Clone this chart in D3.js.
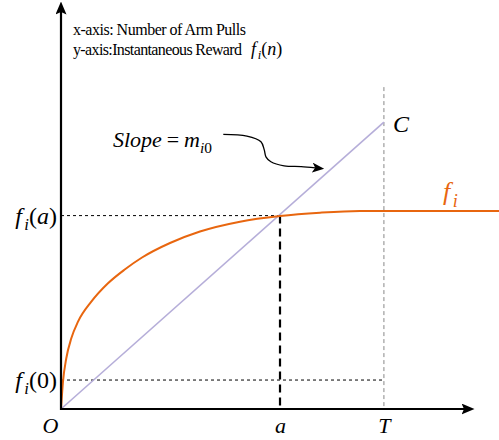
<!DOCTYPE html>
<html>
<head>
<meta charset="utf-8">
<script src="https://cdn.jsdelivr.net/npm/d3@7"></script>
<style>
  body { margin: 0; background: #fff; }
  svg { display: block; }
</style>
</head>
<body>
<svg id="chart" width="499" height="440"></svg>
<script>
// reward curve f_i(n) (units 0..100 on both axes)
var curveN = [0, 0.48, 1.28, 2.49, 4.11, 7.32, 11.35, 15.39, 19.57, 26.33, 33.57, 43.24, 52.9, 62.56, 72.22, 81.88, 106.0];
var curveF = [0, 6.69, 12.43, 17.33, 21.40, 26.30, 30.81, 34.19, 37.13, 40.69, 43.50, 45.91, 47.30, 48.11, 48.53, 48.53, 48.53];

// straight line from O to C
var slopeN = [0, 78.0];
var slopeF = [0, 70.3];

// tick labels on the axes
var xTickNames = ["O", "a", "T"];
var xTickValues = [0, 52.9, 78.0];
var yTickNames = ["0", "a"];            // f_i(0), f_i(a)
var yTickValues = [7.1, 47.4];
var tLineTop = 78.9;

// wavy pointer from the slope label to the line
var pointerN = [39.2, 44.9, 48.3, 49.1, 49.5, 50.7, 53.9, 58.0, 61.4];
var pointerF = [67.3, 66.9, 65.5, 63.5, 61.8, 60.6, 59.6, 59.4, 59.1];

var legendLines = ["x-axis: Number of Arm Pulls", "y-axis:Instantaneous Reward"];
var legendWidths = [173, 169];

var orange = "#e8660f", lilac = "#b6aed9";
var mathFont = "'Liberation Serif', serif";

var svg = d3.select("#chart");

var x = d3.scaleLinear().domain([0, 100]).range([61, 475]);
var y = d3.scaleLinear().domain([0, 100]).range([409, 1]);

var defs = svg.append("defs");
function addMarker(id, len, half, notch) {
  defs.append("marker")
    .attr("id", id)
    .attr("markerUnits", "userSpaceOnUse")
    .attr("viewBox", [0, -half, len, half * 2].join(" "))
    .attr("markerWidth", len)
    .attr("markerHeight", half * 2)
    .attr("refX", notch)
    .attr("refY", 0)
    .attr("orient", "auto")
    .append("path")
    .attr("d", "M" + len + ",0L0," + (-half) + "L" + notch + ",0L0," + half + "Z")
    .attr("fill", "#000");
}
addMarker("axisArrow", 13, 5.5, 2.5);
addMarker("ptrArrow", 12, 5, 3);

// writes math-like text: parts of [string, kind]
// kind: i = italic, r = roman, s = italic subscript, sr = roman subscript,
// f = italic with a little room after, sp = roman operator with space around
function mathText(sel, parts, size) {
  sel.text(null).style("font-family", mathFont).style("font-size", size + "px");
  var shift = 0, gap = 0;
  parts.forEach(function(p) {
    var t = sel.append("tspan").text(p[0]);
    var k = p[1];
    var sub = k === "s" || k === "sr";
    t.style("font-style", (k === "r" || k === "sr" || k === "sp") ? "normal" : "italic");
    if (gap) t.attr("dx", gap + "px");
    if (k === "sp") t.attr("dx", size * 0.22 + "px");
    if (sub) {
      t.style("font-size", (size * 0.7) + "px").attr("dy", (size * 0.25 - shift) + "px");
      shift = size * 0.25;
    } else if (shift) {
      t.attr("dy", (-shift) + "px");
      shift = 0;
    }
    gap = k === "f" ? size * 0.1 : (k === "sp" ? size * 0.22 : 0);
  });
}

// guide lines
svg.append("line")
  .attr("x1", x(0)).attr("x2", x(xTickValues[2]))
  .attr("y1", y(yTickValues[0])).attr("y2", y(yTickValues[0]))
  .attr("stroke", "#000").attr("stroke-width", 1).attr("stroke-dasharray", "3,3");
svg.append("line")
  .attr("x1", x(0)).attr("x2", x(xTickValues[1]))
  .attr("y1", y(yTickValues[1])).attr("y2", y(yTickValues[1]))
  .attr("stroke", "#000").attr("stroke-width", 1).attr("stroke-dasharray", "3,3");
svg.append("line")
  .attr("x1", x(xTickValues[1])).attr("x2", x(xTickValues[1]))
  .attr("y1", y(yTickValues[1])).attr("y2", y(0))
  .attr("stroke", "#000").attr("stroke-width", 2.2).attr("stroke-dasharray", "8,5");
svg.append("line")
  .attr("x1", x(xTickValues[2])).attr("x2", x(xTickValues[2]))
  .attr("y1", y(tLineTop)).attr("y2", y(0))
  .attr("stroke", "#888").attr("stroke-width", 1).attr("stroke-dasharray", "4,3");

// slope line O -> C
svg.append("path")
  .datum(d3.range(slopeN.length))
  .attr("d", d3.line().x(function(i) { return x(slopeN[i]); }).y(function(i) { return y(slopeF[i]); }))
  .attr("fill", "none").attr("stroke", lilac).attr("stroke-width", 1.6);

// reward curve
svg.append("path")
  .datum(d3.range(curveN.length))
  .attr("d", d3.line().curve(d3.curveMonotoneX)
    .x(function(i) { return x(curveN[i]); }).y(function(i) { return y(curveF[i]); }))
  .attr("fill", "none").attr("stroke", orange).attr("stroke-width", 2);

// axes (labels only, arrows drawn below)
var xAxis = svg.append("g")
  .attr("transform", "translate(0," + y(0) + ")")
  .call(d3.axisBottom(x).tickValues(xTickValues).tickSize(0).tickPadding(8)
    .tickFormat(function(d, i) { return xTickNames[i]; }));
xAxis.select(".domain").remove();
xAxis.selectAll("text")
  .style("font-family", mathFont).style("font-style", "italic").style("font-size", "22px")
  .attr("fill", "#000")
  .attr("dx", function(d, i) { return i === 0 ? -11 : 0; });

var yAxis = svg.append("g")
  .attr("transform", "translate(" + x(0) + ",0)")
  .call(d3.axisLeft(y).tickValues(yTickValues).tickSize(0).tickPadding(4));
yAxis.select(".domain").remove();
yAxis.selectAll("text").attr("fill", "#000").each(function(d, i) {
  mathText(d3.select(this), [["f", "f"], ["i", "s"], ["(", "r"], [yTickNames[i], yTickNames[i] === "0" ? "r" : "i"], [")", "r"]], 24);
});

svg.append("line")
  .attr("x1", x(0)).attr("x2", x(0))
  .attr("y1", y(0) + 1).attr("y2", y(100) + 11)
  .attr("stroke", "#000").attr("stroke-width", 2.2)
  .attr("marker-end", "url(#axisArrow)");
svg.append("line")
  .attr("x1", x(0) - 1).attr("x2", x(100) - 11)
  .attr("y1", y(0)).attr("y2", y(0))
  .attr("stroke", "#000").attr("stroke-width", 2.2)
  .attr("marker-end", "url(#axisArrow)");

// flat part label and point C
mathText(svg.append("text").attr("x", 443).attr("y", 200).attr("fill", orange),
  [["f", "f"], ["i", "s"]], 26);
mathText(svg.append("text").attr("x", x(slopeN[1]) + 9).attr("y", y(slopeF[1]) + 10).attr("fill", "#000"),
  [["C", "i"]], 24);

// slope annotation
mathText(svg.append("text").attr("x", 113).attr("y", 147).attr("fill", "#000"),
  [["Slope", "i"], ["=", "sp"], ["m", "i"], ["i", "s"], ["0", "sr"]], 22);
svg.append("path")
  .datum(d3.range(pointerN.length))
  .attr("d", d3.line().curve(d3.curveCatmullRom)
    .x(function(i) { return x(pointerN[i]); }).y(function(i) { return y(pointerF[i]); }))
  .attr("fill", "none").attr("stroke", "#000").attr("stroke-width", 1.3)
  .attr("marker-end", "url(#ptrArrow)");

// axis description
var legend = svg.append("g")
  .style("font-family", mathFont).style("font-size", "16px").attr("fill", "#000");
legend.selectAll("text").data(legendLines).enter().append("text")
  .attr("x", 73).attr("y", function(d, i) { return 35 + i * 19.5; })
  .attr("textLength", function(d, i) { return legendWidths[i]; })
  .attr("lengthAdjust", "spacing")
  .text(function(d) { return d; });
mathText(svg.append("text").attr("x", 251).attr("y", 54.5).attr("fill", "#000"),
  [["f", "f"], ["i", "s"], ["(", "r"], ["n", "i"], [")", "r"]], 18);
</script>
</body>
</html>
